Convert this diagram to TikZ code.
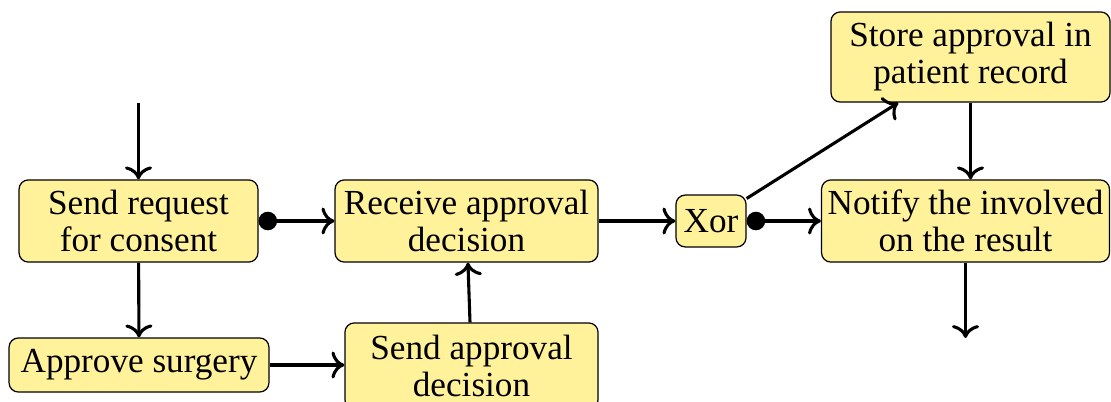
\documentclass[tikz,border=0pt]{standalone}
\usepackage{fontspec}
\setmainfont{Liberation Serif}
\usetikzlibrary{arrows.meta}
\definecolor{taskfill}{RGB}{255,242,155}
\tikzset{
  task/.style={draw, fill=taskfill, rounded corners=3pt, align=center,
               inner sep=2pt, minimum height=26.6pt,
               font=\fontsize{11.4}{12}\selectfont},
  flow/.style={line width=1pt, -{To[scale=1.1]}},
  cflow/.style={line width=1pt, {Circle[length=6pt]}-{To[scale=1.1]}},
}
\begin{document}
\begin{tikzpicture}[x=0.324pt,y=-0.324pt]
\useasboundingbox (0,0) rectangle (1111,401);
% activities
\node[task, minimum width=77.4pt] (req) at (138.5,221) {Send request\\for consent};
\node[task, minimum width=85.2pt] (rcv) at (466.5,221) {Receive approval\\decision};
\node[task, minimum width=22.7pt, minimum height=16.8pt] (xor) at (711,221) {Xor};
\node[task, minimum width=92.3pt] (ntf) at (965.5,221) {Notify the involved\\on the result};
\node[task, minimum width=90.4pt, minimum height=29.2pt] (sto) at (970.5,57) {Store approval in\\patient record};
\node[task, minimum width=84.2pt, minimum height=17.5pt] (apr) at (139,365) {Approve surgery};
\node[task, minimum width=82pt, minimum height=27.9pt] (sad) at (471.5,366) {Send approval\\decision};
% loose ends
\coordinate (in) at (138.5,103);
\coordinate (out) at (965.5,338);
% flows
\draw[flow] (in) -- (req);
\draw[cflow] (req) -- (rcv);
\draw[flow] (req) -- (apr);
\draw[flow] (apr.east) -- (apr.east -| sad.west);
\draw[flow] (sad) -- (rcv);
\draw[flow] (rcv) -- (xor);
\draw[cflow] (xor) -- (ntf);
\draw[flow] (xor) -- (sto);
\draw[flow] (sto.south) -- (sto.south |- ntf.north);
\draw[flow] (ntf) -- (out);
\end{tikzpicture}
\end{document}
